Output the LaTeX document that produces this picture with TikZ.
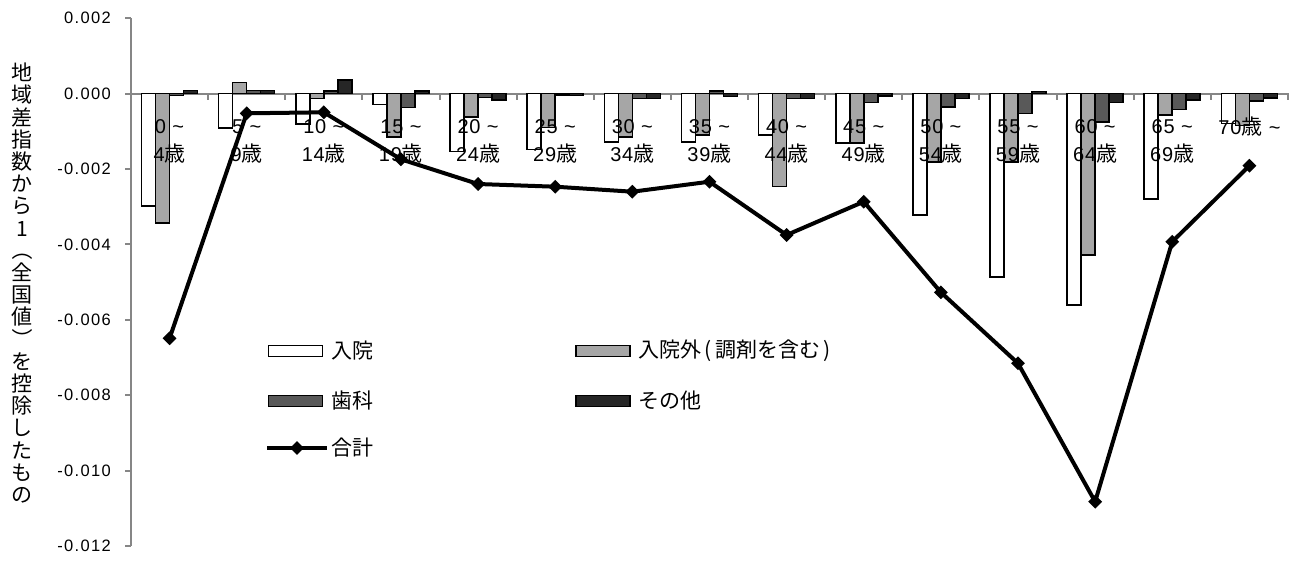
\documentclass[tikz,border=0pt]{standalone}
\usepackage{fontspec}
\setmainfont{Liberation Sans}
\newfontfamily\jp{Noto Sans CJK JP}
\newfontfamily\tickfont[LetterSpace=8]{Liberation Sans}
\newfontfamily\catfont[LetterSpace=4]{Liberation Sans}
\usetikzlibrary{shapes.geometric}
\definecolor{axisgray}{HTML}{868686}
\definecolor{fillB}{HTML}{A6A6A6}
\definecolor{fillC}{HTML}{595959}
\definecolor{fillD}{HTML}{262626}
\tikzset{
  axisline/.style={draw=axisgray, line width=2pt},
  barbase/.style={draw=black, line width=1.6pt},
  barA/.style={barbase, fill=white},
  barB/.style={barbase, fill=fillB},
  barC/.style={barbase, fill=fillC},
  barD/.style={barbase, fill=fillD},
  catlab/.style={font=\catfont\fontsize{20}{28}\selectfont, align=center, inner sep=0pt},
  ticklab/.style={font=\tickfont\fontsize{16.5}{19}\selectfont, anchor=east, inner sep=0pt},
  legbox/.style={draw=black, line width=1.6pt, minimum width=54pt, minimum height=11pt, inner sep=0pt},
  legtxt/.style={font=\jp\fontsize{21}{24}\selectfont, anchor=west, inner sep=0pt},
  totline/.style={draw=black, line width=4pt, line join=round},
  totmark/.style={diamond, fill=black, inner sep=0pt, minimum size=14pt},
}
\begin{document}
\begin{tikzpicture}[x=1pt,y=-1pt]
\useasboundingbox (0,0) rectangle (1295,563);
% axes
\draw[axisline] (131,18) -- (131,546);
\foreach \v in {2,0,-2,-4,-6,-8,-10,-12}
  \draw[axisline] (125,{93.5-37.71*\v}) -- (131,{93.5-37.71*\v});
\draw[axisline] (131,93.5) -- (1289,93.5);
\foreach \j in {1,...,15}
  \draw[axisline] ({131+77.13*\j},93.5) -- ({131+77.13*\j},100);
% bars
\foreach \k/\a/\b/\c/\d in {
1/-2.98/-3.44/-0.05/0.08,
2/-0.91/0.29/0.08/0.08,
3/-0.81/-0.13/0.07/0.36,
4/-0.29/-1.15/-0.37/0.07,
5/-1.54/-0.63/-0.11/-0.17,
6/-1.48/-0.90/-0.04/-0.05,
7/-1.28/-1.16/-0.13/-0.13,
8/-1.28/-1.10/0.07/-0.08,
9/-1.10/-2.47/-0.13/-0.13,
10/-1.32/-1.32/-0.24/-0.07,
11/-3.22/-1.81/-0.35/-0.13,
12/-4.86/-1.81/-0.53/0.05,
13/-5.61/-4.28/-0.75/-0.24,
14/-2.80/-0.57/-0.42/-0.17,
15/-0.80/-0.85/-0.20/-0.12}{
  \pgfmathsetmacro\cx{131+77.13*(\k-0.5)}
  \draw[barA] ({\cx-28},93.5) rectangle ({\cx-14},{93.5-37.71*\a});
  \draw[barB] ({\cx-14},93.5) rectangle ({\cx},{93.5-37.71*\b});
  \draw[barC] ({\cx},93.5) rectangle ({\cx+14},{93.5-37.71*\c});
  \draw[barD] ({\cx+14},93.5) rectangle ({\cx+28},{93.5-37.71*\d});
}
% category labels
\foreach \k in {1,...,14}{
  \pgfmathtruncatemacro\lo{5*(\k-1)}
  \pgfmathtruncatemacro\hi{5*\k-1}
  \pgfmathsetmacro\cx{131+77.13*(\k-0.5)}
  \node[catlab] (lab\k) at (\cx,141) {\lo\ \textasciitilde\\\hi{\jp\fontsize{21}{28}\selectfont 歳}};
}
\node[catlab] (lab15) at (1249.4,127) {70{\jp\fontsize{21}{28}\selectfont 歳} \textasciitilde};
% total line
\foreach \k/\py in {1/338.3,2/113.3,3/112.3,4/159.3,5/184,6/186.7,7/191.7,8/181.7,9/235,10/201.7,11/292.3,12/363.3,13/501.7,14/241.7,15/165.7}
  \coordinate (p\k) at ({131+77.13*(\k-0.5)},\py);
\draw[totline] (p1) -- (p2) -- (p3) -- (p4) -- (p5) -- (p6) -- (p7) -- (p8) -- (p9) -- (p10) -- (p11) -- (p12) -- (p13) -- (p14) -- (p15);
\foreach \k in {1,...,15}
  \node[totmark] (m\k) at (p\k) {};
% y tick labels
\foreach \i/\v/\t in {1/2/0.002,2/0/0.000,3/-2/-0.002,4/-4/-0.004,5/-6/-0.006,6/-8/-0.008,7/-10/-0.010,8/-12/-0.012}
  \node[ticklab] (yt\i) at (111,{93.5-37.71*\v}) {\t};
% legend
\node[legbox, fill=white] (lgA) at (295.5,351) {};
\node[legtxt] (ltA) at (331,351) {入院};
\node[legbox, fill=fillB] (lgB) at (603,351) {};
\node[legtxt] (ltB) at (638,351) {入院外\,(\,調剤を含む\,)};
\node[legbox, fill=fillC] (lgC) at (295.5,401) {};
\node[legtxt] (ltC) at (331,401) {歯科};
\node[legbox, fill=fillD] (lgD) at (603,401) {};
\node[legtxt] (ltD) at (638,401) {その他};
\coordinate (lgEa) at (267,448);
\coordinate (lgEb) at (327,448);
\draw[totline] (lgEa) -- (lgEb);
\node[totmark] (lgE) at (297,448) {};
\node[legtxt] (ltE) at (331,448) {合計};
% y axis title
\node[font=\jp\fontsize{21}{22.2}\selectfont, align=center, inner sep=0pt] (ytitle) at (22,283)
 {地\\域\\差\\指\\数\\か\\ら\\1\\\rotatebox[origin=c]{-90}{（}\\全\\国\\値\\\rotatebox[origin=c]{-90}{）}\\を\\控\\除\\し\\た\\も\\の};
\end{tikzpicture}
\end{document}
